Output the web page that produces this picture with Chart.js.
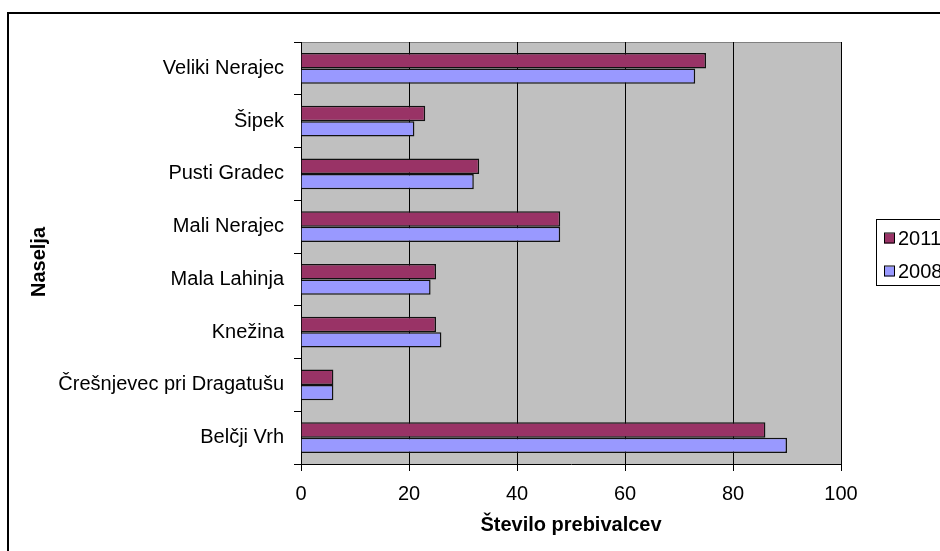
<!DOCTYPE html>
<html>
<head>
<meta charset="utf-8">
<script src="https://cdn.jsdelivr.net/npm/chart.js@4"></script>
<style>
  html, body { margin: 0; padding: 0; background: #ffffff; overflow: hidden; }
  canvas { display: block; }
</style>
</head>
<body>
<canvas id="c" width="940" height="551"></canvas>
<script>
const categories = ["Veliki Nerajec", "Šipek", "Pusti Gradec", "Mali Nerajec", "Mala Lahinja", "Knežina", "Črešnjevec pri Dragatušu", "Belčji Vrh"];
const values2011 = [75, 23, 33, 48, 25, 25, 6, 86];
const values2008 = [73, 21, 32, 48, 24, 26, 6, 90];
const xTicks = [0, 20, 40, 60, 80, 100];
const seriesLabels = ["2011", "2008"];
const xTitle = "Število prebivalcev";
const yTitle = "Naselja";

const FONT = '"Liberation Sans", Arial, sans-serif';
const colors = ["#993366", "#9999FF"];

const decor = {
  id: 'decor',
  beforeDraw(chart) {
    const { ctx, chartArea: a } = chart;
    ctx.save();
    ctx.fillStyle = '#ffffff';
    ctx.fillRect(0, 0, chart.width, chart.height);
    ctx.strokeStyle = '#000000';
    ctx.lineWidth = 2;
    ctx.strokeRect(8, 13, 1200, 1200);
    ctx.fillStyle = '#C0C0C0';
    ctx.fillRect(a.left, a.top, a.right - a.left, a.bottom - a.top);
    ctx.strokeStyle = '#808080';
    ctx.lineWidth = 1;
    ctx.beginPath();
    ctx.moveTo(a.left, a.top + 0.5);
    ctx.lineTo(a.right, a.top + 0.5);
    ctx.stroke();
    ctx.restore();
  },
  afterDraw(chart) {
    const { ctx } = chart;
    ctx.save();
    ctx.translate(39, 262);
    ctx.rotate(-Math.PI / 2);
    ctx.font = 'bold 20px ' + FONT;
    ctx.fillStyle = '#000000';
    ctx.textAlign = 'center';
    ctx.textBaseline = 'middle';
    ctx.fillText(yTitle, 0, 0);
    ctx.restore();

    ctx.save();
    ctx.fillStyle = '#ffffff';
    ctx.fillRect(876, 219, 200, 66);
    ctx.strokeStyle = '#000000';
    ctx.lineWidth = 1;
    ctx.strokeRect(876.5, 219.5, 200, 66);
    const ys = [238.5, 271.5];
    chart.data.datasets.forEach((ds, i) => {
      ctx.fillStyle = ds.backgroundColor;
      ctx.fillRect(884, ys[i] - 5, 10, 10);
      ctx.strokeStyle = '#000000';
      ctx.strokeRect(884.5, ys[i] - 5.5, 10, 10);
      ctx.fillStyle = '#000000';
      ctx.font = '20px ' + FONT;
      ctx.textAlign = 'left';
      ctx.textBaseline = 'middle';
      ctx.fillText(ds.label, 898, ys[i] + 1);
    });
    ctx.restore();
  }
};

new Chart(document.getElementById('c'), {
  type: 'bar',
  data: {
    labels: categories,
    datasets: [
      { label: seriesLabels[0], data: values2011, backgroundColor: colors[0], borderColor: '#111111', borderWidth: 1.5, categoryPercentage: 0.58, barPercentage: 1.0 },
      { label: seriesLabels[1], data: values2008, backgroundColor: colors[1], borderColor: '#111111', borderWidth: 1.5, categoryPercentage: 0.58, barPercentage: 1.0 }
    ]
  },
  options: {
    indexAxis: 'y',
    responsive: false,
    animation: false,
    devicePixelRatio: 1,
    layout: { padding: { left: 0, top: 42, right: 99, bottom: 0 } },
    plugins: { legend: { display: false }, tooltip: { enabled: false } },
    scales: {
      x: {
        min: 0, max: 100,
        afterBuildTicks(scale) { scale.ticks = xTicks.map(v => ({ value: v })); },
        afterFit(scale) { scale.height = 87; },
        ticks: { color: '#000000', font: { family: FONT, size: 20 }, padding: 11, maxRotation: 0 },
        grid: { color: '#000000', lineWidth: 1, drawTicks: true, tickLength: 7, tickColor: '#000000' },
        border: { color: '#000000', width: 1 },
        title: { display: true, text: xTitle, color: '#000000', font: { family: FONT, size: 20, weight: 'bold' }, padding: { top: 0, bottom: 14 } }
      },
      y: {
        afterFit(scale) { scale.width = 301; },
        ticks: { color: '#000000', font: { family: FONT, size: 20 }, padding: 10 },
        grid: { drawOnChartArea: false, drawTicks: true, tickLength: 7, color: '#000000', offset: true },
        border: { color: '#000000', width: 1 }
      }
    }
  },
  plugins: [decor]
});
</script>
</body>
</html>
